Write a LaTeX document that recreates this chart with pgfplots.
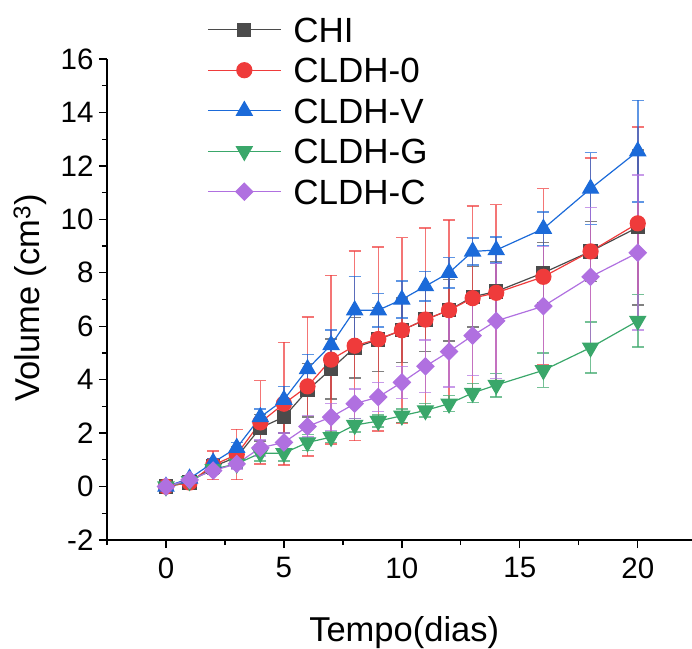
\documentclass[border=0pt]{standalone}
\usepackage{pgfplots}
\usepackage{pgfplotstable}
\pgfplotsset{compat=1.18}
\usepackage{fontspec}
\setmainfont{Liberation Sans}
\definecolor{cchi}{HTML}{4B4B4B}
\definecolor{cred}{HTML}{EF3B3B}
\definecolor{cblue}{HTML}{1B6AD9}
\definecolor{cgreen}{HTML}{3AA76A}
\definecolor{cpurp}{HTML}{B070E0}
\pgfplotstableread{
x  CHI  eCHI  Cz   eCz  V     eV   G    eG   C    eC
0  0    0     0    0    0     0    0    0    0    0
1  0.15 0.1   0.15 0.1  0.3   0.05 0.2  0.05 0.25 0.05
2  0.75 0.3   0.8  0.54 0.9   0.15 0.65 0.1  0.6  0.1
3  1.1  0.4   1.2  0.94 1.45  0.2  0.85 0.15 0.85 0.2
4  2.2  0.5   2.4  1.56 2.6   0.3  1.25 0.3  1.45 0.3
5  2.6  0.6   3.1  2.3  3.25  0.5  1.25 0.3  1.65 0.35
6  3.6  1.0   3.75 2.6  4.4   0.55 1.65 0.3  2.25 0.4
7  4.4  1.13  4.75 3.15 5.3   0.56 1.85 0.2  2.6  0.5
8  5.2  1.13  5.27 3.55 6.6   1.27 2.3  0.25 3.1  0.55
9  5.5  1.2   5.52 3.45 6.6   0.62 2.45 0.22 3.35 0.55
10 5.85 1.2   5.85 3.47 7.0   0.7  2.65 0.26 3.9  0.6
11 6.25 1.2   6.25 3.43 7.5   0.55 2.85 0.25 4.5  0.98
12 6.6  1.15  6.6  3.37 8.0   0.57 3.1  0.3  5.05 1.33
13 7.1  1.13  7.05 3.45 8.8   0.5  3.5  0.35 5.65 1.5
14 7.3  1.12  7.25 3.3  8.85  0.48 3.8  0.44 6.2  2.15
16 8.0  1.14  7.85 3.3  9.65  0.63 4.35 0.64 6.75 2.23
18 8.8  1.12  8.8  3.5  11.15 1.35 5.2  0.95 7.85 2.6
20 9.7  2.9   9.85 3.6  12.55 1.9  6.2  0.98 8.75 2.9
}\datatable
\begin{document}
\begin{tikzpicture}
\begin{axis}[
  scale only axis,
  width=585pt, height=481pt,
  xmin=-2.5, xmax=22.3, ymin=-2, ymax=16,
  axis x line*=bottom, axis y line*=left,
  axis line style={line width=1.3pt},
  xtick={0,5,10,15,20}, minor xtick={-2.5,2.5,7.5,12.5,17.5},
  ytick={-2,0,2,4,6,8,10,12,14,16}, minor ytick={-1,1,3,5,7,9,11,13,15},
  tick align=outside,
  major tick length=8pt, minor tick length=5pt,
  tick style={line width=1.3pt, black},
  /pgf/number format/assume math mode=true,
  ticklabel style={font=\fontsize{29.5}{34}\selectfont},
  xticklabel style={yshift=-6pt},
  yticklabel style={xshift=-2pt},
  xlabel={Tempo(dias)},
  ylabel={Volume (cm\textsuperscript{3})},
  xlabel style={font=\fontsize{34.5}{40}\selectfont, at={(axis description cs:0.508,-0.212)}, anchor=base},
  ylabel style={font=\fontsize{34.5}{40}\selectfont, at={(axis description cs:-0.1316,0.503)}, anchor=center, rotate=0},
  legend style={draw=none, fill=none, inner sep=0pt, at={(axis description cs:0.171,1.0873)}, anchor=north west,
    font=\fontsize{35}{40}\selectfont, row sep=15.5pt, column sep=12pt,
    nodes={inner sep=0pt, text height=25pt, text depth=0pt}},
  legend cell align=left,
  legend image code/.code={
    \draw[mark repeat=2, mark phase=2] plot coordinates {(0pt,0pt) (36.5pt,0pt) (73pt,0pt)};
  },
  error bars/y dir=both, error bars/y explicit,
  error bars/error bar style={line width=1.5pt, opacity=0.7},
  error bars/error mark options={rotate=90, mark size=6pt, line width=1.5pt, opacity=0.7},
]
\addplot[color=cchi, line width=1.2pt, mark=square*, mark size=6.5pt, mark options={solid}]
  table[x=x, y=CHI, y error=eCHI]{\datatable};
\addlegendentry{CHI}
\addplot[color=cred, line width=1.2pt, mark=*, mark size=7.5pt]
  table[x=x, y=Cz, y error=eCz]{\datatable};
\addlegendentry{CLDH-0}
\addplot[color=cblue, line width=1.2pt, mark=triangle*, mark size=9pt]
  table[x=x, y=V, y error=eV]{\datatable};
\addlegendentry{CLDH-V}
\addplot[color=cgreen, line width=1.2pt, mark=triangle*, mark size=9pt, mark options={rotate=180}]
  table[x=x, y=G, y error=eG]{\datatable};
\addlegendentry{CLDH-G}
\addplot[color=cpurp, line width=1.2pt, mark=square*, mark size=6pt, mark options={rotate=45}]
  table[x=x, y=C, y error=eC]{\datatable};
\addlegendentry{CLDH-C}
\coordinate (SW) at (rel axis cs:0,0);
\coordinate (NE) at (rel axis cs:1,1);
\end{axis}
\pgfresetboundingbox
\useasboundingbox ([xshift=-107pt,yshift=-108pt]SW) rectangle ([yshift=59pt]NE);
\end{tikzpicture}
\end{document}
